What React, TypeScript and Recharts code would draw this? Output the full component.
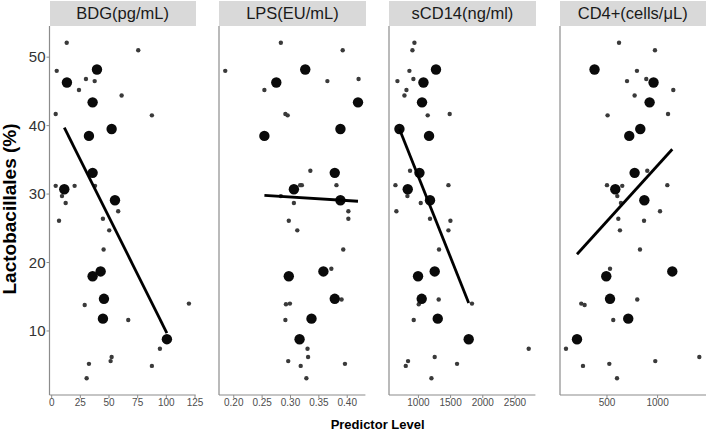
import React from 'react';
import { ScatterChart, Scatter, XAxis, YAxis } from 'recharts';

const FONT = '"Liberation Sans", Arial, sans-serif';

// Shared outcome values for the highlighted (large) subjects
const largeY = [48.2, 46.3, 43.4, 39.5, 38.5, 33.1, 30.7, 29.1, 18.7, 18.0, 14.7, 11.8, 8.8];

// Large-point predictor values per panel
const bdgLargeX = [39.5, 13.3, 35.7, 52.3, 32.5, 35.7, 11, 55.2, 42.7, 35.7, 45.6, 44.7, 100.5];
const lpsLargeX = [0.326, 0.275, 0.419, 0.388, 0.254, 0.378, 0.306, 0.388, 0.358, 0.297, 0.378, 0.337, 0.316];
const scd14LargeX = [1273, 1078, 1056, 705, 1165, 1016, 834, 1180, 1253, 994, 1051, 1300, 1781];
const cd4LargeX = [377, 960, 921, 829, 720, 773, 582, 869, 1145, 493, 530, 710, 204];

// Small points [predictor, outcome]
const bdgSmall = [
  [13.1, 52.1], [75.5, 51.0], [4.4, 48.0], [29.9, 46.8], [37.5, 46.5], [23.8, 45.2], [61, 44.4],
  [3.5, 41.7], [87.4, 41.5], [3.5, 31.2], [20, 31.2], [37.8, 31.2], [9, 29.7], [12.2, 28.7],
  [58, 27.5], [6.4, 26.1], [44.7, 26.4], [50.2, 24.7], [45.3, 21.9], [41, 19.0], [28.8, 13.8],
  [66.8, 11.6], [119.7, 14.0], [94.4, 7.4], [52.3, 6.2], [51.4, 5.6], [32.5, 5.2], [87.4, 4.9], [30.5, 3.1],
];
const lpsSmall = [
  [0.283, 52.1], [0.392, 51.0], [0.185, 48.0], [0.365, 46.5], [0.42, 46.8], [0.254, 45.2], [0.291, 41.7],
  [0.295, 41.5], [0.335, 33.4], [0.381, 31.3], [0.317, 31.3], [0.32, 31.3], [0.283, 29.7], [0.306, 28.7],
  [0.402, 27.5], [0.402, 26.4], [0.297, 26.1], [0.312, 24.7], [0.393, 21.9], [0.372, 19.1], [0.39, 14.6],
  [0.299, 14.0], [0.292, 13.9], [0.291, 11.6], [0.33, 7.4], [0.331, 6.2], [0.296, 5.6], [0.318, 4.9],
  [0.396, 5.2], [0.328, 3.1],
];
const scd14Small = [
  [938, 52.1], [907, 51.0], [860, 48.0], [674, 46.5], [922, 46.8], [814, 45.2], [783, 44.4], [1144, 41.5],
  [1486, 41.7], [870, 33.4], [643, 31.3], [1466, 31.3], [829, 29.7], [1036, 28.7], [658, 27.5], [1180, 26.4],
  [1497, 26.1], [1466, 24.7], [1320, 21.9], [1315, 14.6], [1005, 13.9], [1832, 14.0], [927, 11.6],
  [2713, 7.4], [1253, 6.2], [839, 5.6], [803, 4.9], [1600, 5.2], [1202, 3.1],
];
const cd4Small = [
  [619, 52.1], [974, 51.0], [796, 48.0], [698, 46.5], [888, 46.8], [1155, 45.2], [773, 44.4], [506, 41.5],
  [1103, 41.7], [898, 33.4], [500, 31.3], [651, 31.2], [1096, 31.3], [602, 29.7], [638, 28.7], [1024, 27.5],
  [612, 26.4], [866, 26.1], [628, 24.7], [826, 21.9], [530, 19.1], [799, 14.6], [246, 14.0], [279, 13.8],
  [562, 11.6], [95, 7.4], [977, 5.6], [263, 4.9], [523, 5.2], [1412, 6.2], [599, 3.1],
];

// Fitted line endpoints [predictor, outcome]
const bdgFit = [[11, 39.7], [100.5, 9.7]];
const lpsFit = [[0.254, 29.8], [0.419, 28.95]];
const scd14Fit = [[705, 39.5], [1781, 14.1]];
const cd4Fit = [[204, 21.2], [1145, 36.55]];

// Axis ticks and titles
const yTicks = [10, 20, 30, 40, 50];
const bdgTicks = [0, 25, 50, 75, 100, 125];
const lpsTicks = [0.2, 0.25, 0.3, 0.35, 0.4];
const scd14Ticks = [1000, 1500, 2000, 2500];
const cd4Ticks = [500, 1000];
const panelTitles = ['BDG(pg/mL)', 'LPS(EU/mL)', 'sCD14(ng/ml)', 'CD4+(cells/μL)'];
const yTitle = 'Lactobacillales (%)';
const xTitle = 'Predictor Level';

const toPts = (arr: number[][]) => arr.map(([x, y]) => ({ x, y }));
const largePts = (xs: number[]) => xs.map((x, i) => ({ x, y: largeY[i] }));
const fmtLps = (v: number) => v.toFixed(2);

const panels = [
  { title: panelTitles[0], small: bdgSmall, largeX: bdgLargeX, fit: bdgFit, domain: [-1.9, 125.6], ticks: bdgTicks, fmt: undefined as any, plotLeft: 49.5, plotWidth: 146.2, first: true },
  { title: panelTitles[1], small: lpsSmall, largeX: lpsLargeX, fit: lpsFit, domain: [0.174, 0.432], ticks: lpsTicks, fmt: fmtLps, plotLeft: 219.3, plotWidth: 146.4, first: false },
  { title: panelTitles[2], small: scd14Small, largeX: scd14LargeX, fit: scd14Fit, domain: [543, 2817], ticks: scd14Ticks, fmt: undefined as any, plotLeft: 389.3, plotWidth: 146.4, first: false },
  { title: panelTitles[3], small: cd4Small, largeX: cd4LargeX, fit: cd4Fit, domain: [36, 1478], ticks: cd4Ticks, fmt: undefined as any, plotLeft: 559.7, plotWidth: 146, first: false },
];

const AXIS = '#8c8c8c';
const SmallDot = (p: any) => <circle cx={p.cx} cy={p.cy} r={2.2} fill="#3a3a3a" />;
const BigDot = (p: any) => <circle cx={p.cx} cy={p.cy} r={5.2} fill="#0a0a0a" />;
const NoDot = () => <g />;

export default function App() {
  return (
    <div style={{ position: 'absolute', left: 0, top: 0, width: 708, height: 430, background: '#fff', fontFamily: FONT, overflow: 'hidden' }}>
      {panels.map((p, i) => {
        const yw = p.first ? p.plotLeft : 20;
        const left = p.plotLeft - yw;
        const rm = i === 3 ? 2 : 12;
        return (
          <React.Fragment key={i}>
            <div
              style={{
                position: 'absolute', left: p.plotLeft, top: 1, width: p.plotWidth, height: 25,
                background: '#d9d9d9', color: '#1a1a1a', fontSize: 16.5, lineHeight: '25px', textAlign: 'center',
              }}
            >
              {p.title}
            </div>
            <div style={{ position: 'absolute', left, top: 0 }}>
              <ScatterChart width={yw + p.plotWidth + rm} height={430} margin={{ top: 26, right: rm, bottom: 0, left: 0 }}>
                <XAxis
                  type="number" dataKey="x" domain={p.domain} ticks={p.ticks} interval={0} allowDataOverflow
                  height={35} tickSize={3} tickMargin={1} tickFormatter={p.fmt}
                  axisLine={{ stroke: AXIS, strokeWidth: 1.2 }} tickLine={{ stroke: AXIS }}
                  tick={{ fontSize: 10, fill: '#4d4d4d', fontFamily: FONT }}
                />
                <YAxis
                  type="number" dataKey="y" domain={[0.65, 54.55]} ticks={yTicks} interval={0} allowDataOverflow
                  width={yw} tickSize={3} tickMargin={1}
                  axisLine={{ stroke: AXIS, strokeWidth: 1.2 }}
                  tickLine={p.first ? { stroke: AXIS } : false}
                  tick={p.first ? { fontSize: 15, fill: '#333', fontFamily: FONT } : false}
                />
                <Scatter data={toPts(p.small)} shape={SmallDot} isAnimationActive={false} />
                <Scatter data={largePts(p.largeX)} shape={BigDot} isAnimationActive={false} />
                <Scatter data={toPts(p.fit)} shape={NoDot} line={{ stroke: '#000', strokeWidth: 2.8 }} isAnimationActive={false} />
              </ScatterChart>
            </div>
          </React.Fragment>
        );
      })}
      <div
        style={{
          position: 'absolute', left: 10, top: 209, transform: 'translate(-50%, -50%) rotate(-90deg)',
          fontSize: 19, fontWeight: 'bold', color: '#000', whiteSpace: 'nowrap',
        }}
      >
        {yTitle}
      </div>
      <div
        style={{
          position: 'absolute', left: 377.6, top: 423.5, transform: 'translate(-50%, -50%)',
          fontSize: 13, fontWeight: 'bold', color: '#000', whiteSpace: 'nowrap',
        }}
      >
        {xTitle}
      </div>
    </div>
  );
}
